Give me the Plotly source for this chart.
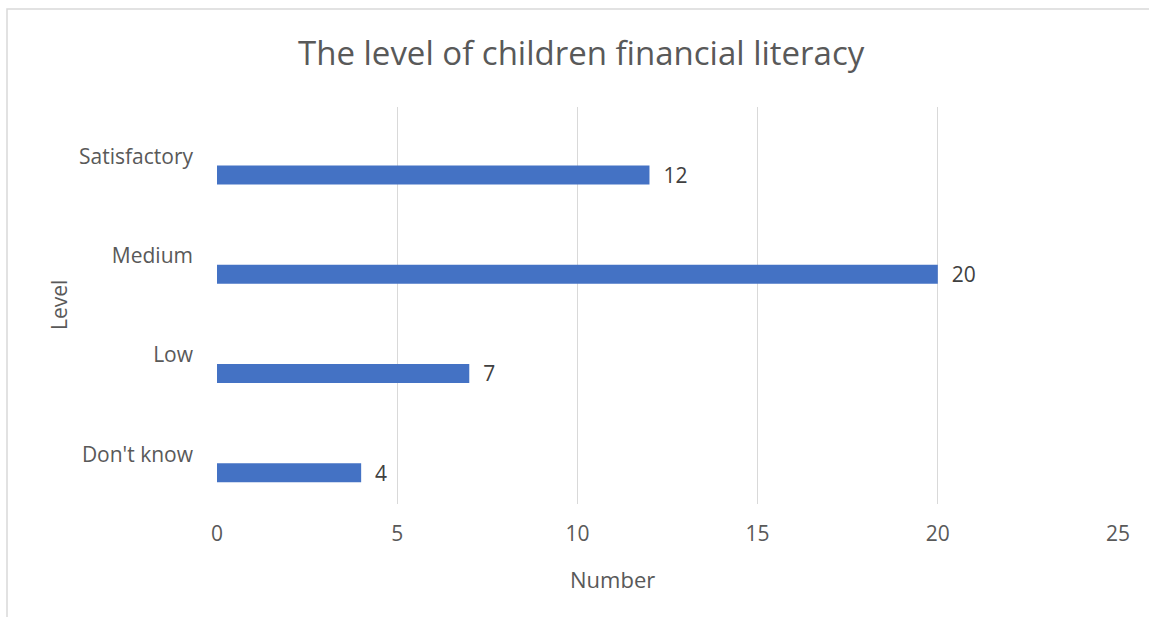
import plotly.graph_objects as go

categories = ["Don't know", "Low", "Medium", "Satisfactory"]
values = [4, 7, 20, 12]
x_ticks = [0, 5, 10, 15, 20, 25]

W, H = 1149, 617
L, R, T, B = 217, 31, 107, 113
pw, ph = W - L - R, H - T - B

def px_x(p):
    return (p - L) / pw

def px_y(p):
    return (H - B - p) / ph

FONT = "Open Sans"
GREY = "#595959"

fig = go.Figure()
fig.add_trace(go.Bar(
    y=categories, x=values, orientation="h",
    marker=dict(color="#4472C4", line=dict(width=0)),
    width=0.19, offset=-0.28,
    texttemplate="\u00a0\u00a0%{x}", textposition="outside", constraintext="none",
    textfont=dict(family=FONT, size=21, color="#404040"),
    cliponaxis=False, hoverinfo="x+y",
))

fig.update_layout(
    width=W, height=H,
    margin=dict(l=L, r=R, t=T, b=B),
    paper_bgcolor="white", plot_bgcolor="white",
    showlegend=False,
    font=dict(family=FONT, color=GREY),
    xaxis=dict(range=[0, 25], tickvals=x_ticks, showgrid=True, gridcolor="#d9d9d9",
               gridwidth=1, zeroline=False, showline=False, ticks="",
               tickfont=dict(family=FONT, size=21, color=GREY), ticklabelstandoff=15),
    yaxis=dict(categoryorder="array", categoryarray=categories, showgrid=False,
               zeroline=False, showline=False, ticks="",
               tickfont=dict(family=FONT, size=21, color=GREY), ticklabelstandoff=23),
    shapes=[dict(type="rect", xref="paper", yref="paper",
                 x0=px_x(7), x1=px_x(1160), y0=px_y(640), y1=px_y(9),
                 line=dict(color="#d9d9d9", width=1.5), fillcolor="rgba(0,0,0,0)", layer="below")],
    annotations=[
        dict(text="The level of children financial literacy", xref="paper", yref="paper",
             x=px_x(581), y=px_y(52), showarrow=False, xanchor="center", yanchor="middle",
             font=dict(family=FONT, size=33, color=GREY)),
        dict(text="Number", xref="paper", yref="paper", x=px_x(612), y=px_y(579),
             showarrow=False, xanchor="center", yanchor="middle",
             font=dict(family=FONT, size=22, color=GREY)),
        dict(text="Level", xref="paper", yref="paper", x=px_x(59), y=px_y(305),
             showarrow=False, xanchor="center", yanchor="middle", textangle=-90,
             font=dict(family=FONT, size=21, color=GREY)),
    ],
)

fig.write_html("out.html", config={"displayModeBar": False},
               post_script="document.body.style.margin='0';document.body.style.overflow='hidden';")
